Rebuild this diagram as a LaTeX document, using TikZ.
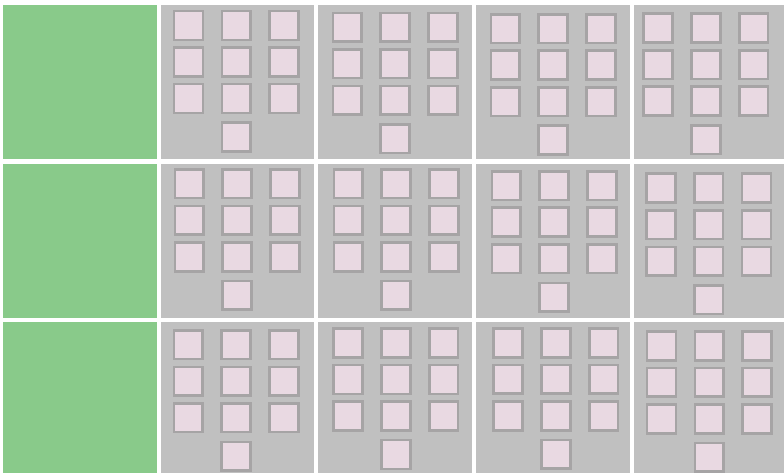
\documentclass[tikz,border=0pt]{standalone}
\usepackage{xcolor,tikz}
\usetikzlibrary{positioning}
\definecolor{PanelGreen}{HTML}{89CA8A}
\definecolor{PanelGray}{HTML}{C0C0C0}
\definecolor{TileFill}{HTML}{E9D9E2}
\definecolor{TileEdge}{HTML}{A6A4A5}
\tikzset{panel/.style={fill=PanelGray,draw=none,inner sep=0pt,outer sep=0pt,
 anchor=north west},lead/.style={panel,fill=PanelGreen,minimum width=154pt},
 tile/.style={draw=TileEdge,fill=TileFill,line width=2.6pt,minimum size=28.8pt,
 inner sep=0pt}}

\begin{document}
\begin{tikzpicture}[x=1pt,y=-1pt]
\useasboundingbox[fill=white] (0,0) rectangle (784,473);
% panels
\foreach \r/\y/\h in {1/5/154,2/164/154,3/322/151}{
  \node[lead,minimum height=\h pt] (lead-\r) at (3,\y) {};
  \foreach \c/\x/\w in {1/161/153,2/318/154,3/476/154,4/634/150}
    \node[panel,minimum width=\w pt,minimum height=\h pt] (panel-\r-\c) at (\x,\y) {};
}
% tiles: 3x3 plus one below the middle column
\foreach \r/\c/\dx/\dy in {1/1/27.5/20.5,1/2/29.3/22.3,1/3/29.2/23.7,1/4/24/23.2,
  2/1/28.2/19.8,2/2/30.2/19.8,2/3/30.3/21.7,2/4/26.8/24.2,
  3/1/27.3/22.7,3/2/30/21,3/3/32/20.8,3/4/27.5/23.8}{
  \foreach \i in {0,1,2}
    \foreach \j in {0,1,2}
      \node[tile] (tile-\r-\c-\i-\j) at ([shift={({\dx+\i*47.8},{\dy+\j*36.5})}]panel-\r-\c.north west) {};
  \node[tile] (tile-\r-\c-last) at ([shift={({\dx+47.8},{\dy+111.5})}]panel-\r-\c.north west) {};
}
\end{tikzpicture}
\end{document}
